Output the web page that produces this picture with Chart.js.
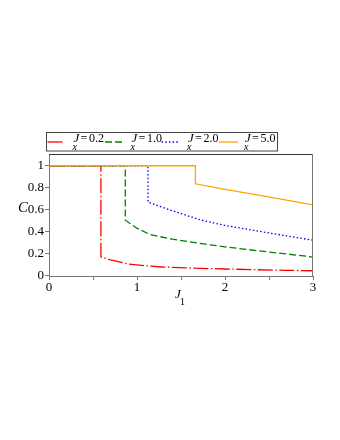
<!DOCTYPE html>
<html>
<head>
<meta charset="utf-8">
<script src="https://cdn.jsdelivr.net/npm/chart.js@4/dist/chart.umd.min.js"></script>
<style>
html,body{margin:0;padding:0;background:#fff;}
#c{display:block;}
</style>
</head>
<body>
<canvas id="c" width="340" height="440"></canvas>
<script>
// Series data (x = J1, y = C)
const redX    = [0, 0.59, 0.59, 0.70, 0.905, 1.10, 1.285, 1.72, 2.00, 2.37, 2.70, 3.00];
const redY    = [1, 1,    0.17, 0.14, 0.103, 0.087, 0.076, 0.064, 0.058, 0.051, 0.046, 0.042];
const greenX  = [0, 0.867, 0.867, 1.00, 1.151, 1.40, 1.778, 2.00, 2.366, 2.70, 3.00];
const greenY  = [1, 1,     0.503, 0.43, 0.371, 0.33, 0.284, 0.26, 0.225, 0.195, 0.167];
const blueX   = [0, 1.125, 1.125, 1.40, 1.72, 2.00, 2.366, 2.70, 3.00];
const blueY   = [1, 1,     0.668, 0.59, 0.506, 0.455, 0.405, 0.36, 0.32];
const orangeX = [0, 1.664, 1.664, 2.00, 2.366, 2.70, 3.00];
const orangeY = [1, 1,     0.835, 0.785, 0.735, 0.687, 0.643];
const seriesNames = ['0.2', '1.0', '2.0', '5.0'];
const xTickLabels = [0, 1, 2, 3];
const yTickLabels = [0, 0.2, 0.4, 0.6, 0.8, 1];

function pts(xs, ys){ return xs.map((x,i)=>({x:x, y:ys[i]})); }

const colors = ['#ff0000', '#008000', '#0000ff', '#ffa500'];
const dashes = [[15,2.5,1.5,2.5], [7,3], [1.5,2.2], []];
const allData = [pts(redX,redY), pts(greenX,greenY), pts(blueX,blueY), pts(orangeX,orangeY)];

const SERIF = "'Liberation Serif', 'Times New Roman', serif";
Chart.defaults.font.family = SERIF;
Chart.defaults.font.size = 13;
Chart.defaults.color = '#000';

const datasets = allData.map((d,i)=>({
  label: 'J_x = ' + seriesNames[i],
  data: d,
  borderColor: colors[i],
  borderWidth: 1.3,
  borderDash: dashes[i],
  pointRadius: 0,
  fill: false,
  tension: 0,
  order: 4 - i
}));

const decor = {
  id: 'decor',
  afterDraw(chart){
    const ctx = chart.ctx;
    const a = chart.chartArea;
    ctx.save();
    // frame top/right
    ctx.lineWidth = 1;
    ctx.strokeStyle = '#333';
    ctx.beginPath();
    ctx.moveTo(a.left, a.top + 0.5);
    ctx.lineTo(a.right, a.top + 0.5);
    ctx.stroke();
    ctx.strokeStyle = '#777';
    ctx.beginPath();
    ctx.moveTo(a.right - 0.5, a.top);
    ctx.lineTo(a.right - 0.5, a.bottom);
    ctx.stroke();

    // legend box
    ctx.strokeStyle = '#444';
    ctx.strokeRect(46.5, 132.5, 231, 18.5);
    const sx = [[47.5,64.5],[105,123],[161.5,180],[219,238]];
    const jx = [73.5, 131.5, 188, 245];
    for (let i=0;i<4;i++){
      ctx.strokeStyle = colors[i];
      ctx.lineWidth = 1.3;
      ctx.setLineDash(dashes[i]);
      ctx.beginPath();
      ctx.moveTo(sx[i][0], 142);
      ctx.lineTo(sx[i][1], 142);
      ctx.stroke();
      ctx.setLineDash([]);
      ctx.fillStyle = '#000';
      ctx.textBaseline = 'alphabetic';
      ctx.textAlign = 'left';
      ctx.font = 'italic 13px ' + SERIF;
      ctx.fillText('J', jx[i], 142);
      ctx.font = 'italic 10px ' + SERIF;
      ctx.fillText('x', jx[i] - 1, 149.5);
      ctx.font = '12px ' + SERIF;
      ctx.fillText('=', jx[i] + 7, 142);
      ctx.fillText(seriesNames[i], jx[i] + 15.5, 142);
    }

    // axis titles
    ctx.fillStyle = '#000';
    ctx.textAlign = 'left';
    ctx.font = 'italic 15px ' + SERIF;
    ctx.fillText('C', 18, 212);
    ctx.font = 'italic 13px ' + SERIF;
    ctx.fillText('J', 175, 298);
    ctx.font = '10px ' + SERIF;
    ctx.fillText('1', 180, 305);
    ctx.restore();
  }
};

new Chart(document.getElementById('c'), {
  type: 'line',
  data: { datasets: datasets },
  options: {
    responsive: false,
    animation: false,
    events: [],
    layout: { padding: { top: 154, right: 27, left: 0, bottom: 0 } },
    plugins: { legend: { display: false }, tooltip: { enabled: false } },
    scales: {
      x: {
        type: 'linear',
        min: 0, max: 3,
        afterFit(s){ s.height = 164; },
        border: { color: '#777', width: 1 },
        grid: { drawOnChartArea: false, tickLength: 4, color: '#777' },
        ticks: {
          stepSize: 0.5,
          includeBounds: false,
          maxRotation: 0,
          padding: 0,
          color: '#000',
          font: { family: SERIF, size: 13 },
          callback: (v) => xTickLabels.includes(v) ? String(v) : ''
        }
      },
      y: {
        type: 'linear',
        min: -0.006, max: 1.107,
        afterFit(s){ s.width = 49; },
        border: { color: '#777', width: 1 },
        grid: {
          drawOnChartArea: false, tickLength: 4,
          color: (c) => (c.tick && c.tick.value > 1.05) ? 'rgba(0,0,0,0)' : '#777'
        },
        ticks: {
          stepSize: 0.1,
          includeBounds: false,
          padding: 1,
          color: '#000',
          font: { family: SERIF, size: 13 },
          callback: (v) => {
            const r = Math.round(v*10)/10;
            const hit = yTickLabels.find(t => Math.abs(t - r) < 1e-9);
            if (hit === undefined) return '';
            return (hit === 0 || hit === 1) ? String(hit) : hit.toFixed(1);
          }
        }
      }
    }
  },
  plugins: [decor]
});
</script>
</body>
</html>
